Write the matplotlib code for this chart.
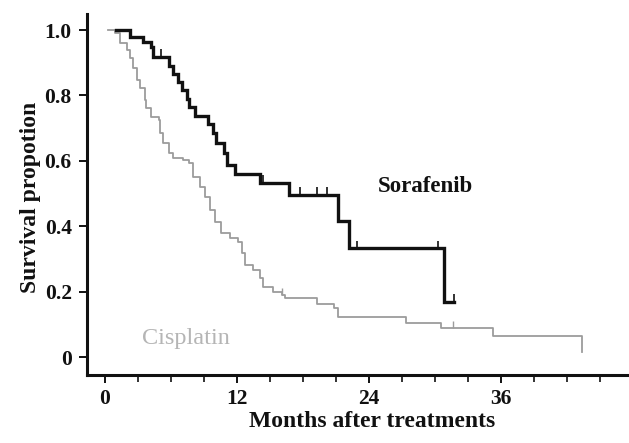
import numpy as np
import matplotlib
matplotlib.use("Agg")
import matplotlib.pyplot as plt
from matplotlib.ticker import MultipleLocator

# ---- data ----
sor_t = [1.0, 2.3, 3.5, 4.2, 4.4, 5.8, 6.2, 6.7, 7.05, 7.5, 7.7, 8.2, 9.4, 9.8,
         10.1, 10.8, 11.1, 11.85, 14.1, 16.7, 21.2, 22.2, 30.8, 31.75]
sor_s = [1.0, 0.978, 0.962, 0.949, 0.917, 0.891, 0.865, 0.842, 0.817, 0.789,
         0.765, 0.738, 0.713, 0.684, 0.653, 0.623, 0.587, 0.560, 0.533, 0.495,
         0.416, 0.332, 0.169, 0.169]
sor_censor = [5.1, 14.4, 17.7, 19.3, 20.2, 22.9, 30.3, 31.75]

cis_t = [0.3, 0.9, 1.4, 2.0, 2.3, 2.6, 2.9, 3.2, 3.65, 3.8,
         4.25, 4.9, 5.0, 5.3, 5.8, 6.2, 7.1, 7.7, 8.05, 8.7,
         9.1, 9.6, 10.0, 10.6, 11.4, 12.15, 12.5, 12.7, 13.5, 14.1,
         14.4, 15.3, 16.1, 16.4, 19.3, 20.8, 21.2, 27.4, 30.5, 35.25, 43.3]
cis_s = [1.0, 0.99, 0.959, 0.939, 0.914, 0.884, 0.847, 0.823, 0.786, 0.761,
         0.735, 0.725, 0.685, 0.654, 0.624, 0.608, 0.602, 0.593, 0.551, 0.521,
         0.49, 0.45, 0.414, 0.378, 0.363, 0.353, 0.317, 0.281, 0.266, 0.241,
         0.215, 0.200, 0.190, 0.180, 0.162, 0.150, 0.123, 0.103, 0.088, 0.063, 0.014]
cis_censor = [16.1, 31.6]

y_ticks = [0, 0.2, 0.4, 0.6, 0.8, 1.0]
y_labels = ["0", "0.2", "0.4", "0.6", "0.8", "1.0"]
x_ticks = [0, 12, 24, 36]
x_labels = ["0", "12", "24", "36"]

SERIF = ["Liberation Serif", "DejaVu Serif"]
BLACK = "#111111"
GRAY = "#9c9c9c"

plt.rcParams["font.family"] = SERIF


def step_value(t, s, x):
    t = np.asarray(t)
    s = np.asarray(s)
    idx = np.searchsorted(t, x, side="right") - 1
    return s[np.clip(idx, 0, len(s) - 1)]


fig = plt.figure(figsize=(6.29, 4.43), dpi=100)
ax = fig.add_axes([87 / 629, 1 - 375 / 443, 1 - 87 / 629, (375 - 14) / 443])

ax.plot(cis_t, cis_s, drawstyle="steps-post", color=GRAY, lw=1.3)
ax.plot(sor_t, sor_s, drawstyle="steps-post", color=BLACK, lw=2.4,
        solid_joinstyle="miter")

cy = step_value(sor_t, sor_s, sor_censor)
ax.vlines(sor_censor, cy, cy + 0.024, color=BLACK, lw=1.2)
gy = step_value(cis_t, cis_s, cis_censor)
ax.vlines(cis_censor, gy, gy + 0.022, color=GRAY, lw=1.0)

ax.set_xlim(-1.6, 47.6)
ax.set_ylim(-0.055, 1.049)

for side in ("top", "right"):
    ax.spines[side].set_visible(False)
for side in ("left", "bottom"):
    ax.spines[side].set_linewidth(2.2)
    ax.spines[side].set_color(BLACK)

ax.set_xticks(x_ticks, x_labels, fontsize=15.5, fontweight="bold")
ax.xaxis.set_minor_locator(MultipleLocator(3))
ax.set_yticks(y_ticks, y_labels, fontsize=15.5, fontweight="bold")

ax.tick_params(axis="x", which="major", direction="out", length=6, width=1.4,
               pad=4, colors=BLACK)
ax.tick_params(axis="x", which="minor", direction="out", length=5, width=1.2,
               colors=BLACK)
ax.tick_params(axis="y", which="major", direction="out", length=6, width=1.4,
               pad=5, colors=BLACK)

ax.text(24.8, 0.52, "Sorafenib", weight="bold", fontsize=16.5,
        color=BLACK, ha="left", va="center")
ax.text(3.4, 0.058, "Cisplatin", fontsize=17.5,
        color="#b5b5b5", ha="left", va="center")

fig.text(249 / 629, 1 - 421.7 / 443, "Months after treatments",
         weight="bold", fontsize=17, ha="left", va="center", color=BLACK)
fig.text(31 / 629, 1 - 293 / 443, "Survival propotion",
         weight="bold", fontsize=17, ha="center", va="bottom", rotation=90,
         color=BLACK)

fig.savefig("out.png", dpi=100)
